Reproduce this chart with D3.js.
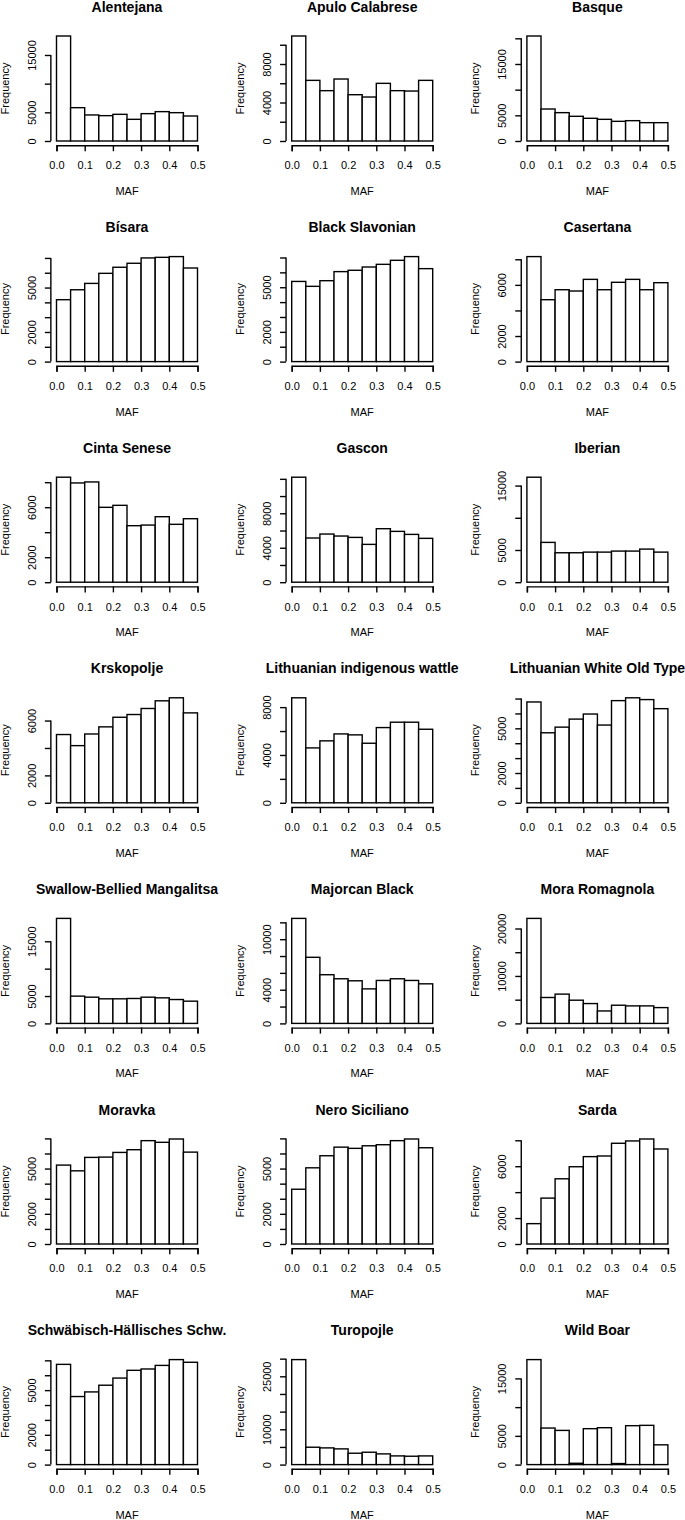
<!DOCTYPE html>
<html>
<head>
<meta charset="utf-8">
<script src="https://cdnjs.cloudflare.com/ajax/libs/d3/7.8.5/d3.min.js"></script>
<style>
  body { margin: 0; background: #fff; }
  text { font-family: "Liberation Sans", Arial, Helvetica, sans-serif; fill: #000; }
</style>
</head>
<body>
<div id="chart"></div>
<script>
// Breeds, in panel order (three per row)
var breeds = [
  "Alentejana", "Apulo Calabrese", "Basque",
  "Bísara", "Black Slavonian", "Casertana",
  "Cinta Senese", "Gascon", "Iberian",
  "Krskopolje", "Lithuanian indigenous wattle", "Lithuanian White Old Type",
  "Swallow-Bellied Mangalitsa", "Majorcan Black", "Mora Romagnola",
  "Moravka", "Nero Siciliano", "Sarda",
  "Schwäbisch-Hällisches Schw.", "Turopojle", "Wild Boar"
];

// MAF bin edges and x tick labels
var mafBreaks = [0, 0.05, 0.1, 0.15, 0.2, 0.25, 0.3, 0.35, 0.4, 0.45, 0.5];
var xTickValues = [0, 0.1, 0.2, 0.3, 0.4, 0.5];
var xTickLabels = ["0.0", "0.1", "0.2", "0.3", "0.4", "0.5"];

// Frequency per MAF bin, one row per breed
var counts = [
  [18310, 5810, 4540, 4420, 4650, 3780, 4770, 5120, 4940, 4360],
  [10910, 6300, 5230, 6440, 4810, 4570, 5990, 5230, 5190, 6300],
  [20450, 6230, 5520, 4810, 4420, 4220, 3830, 3960, 3570, 3570],
  [4180, 4850, 5280, 5960, 6370, 6640, 7000, 7040, 7090, 6320],
  [5390, 5060, 5440, 6050, 6140, 6360, 6540, 6810, 7060, 6250],
  [8210, 4840, 5620, 5520, 6430, 5620, 6200, 6430, 5620, 6170],
  [8400, 7940, 8020, 5990, 6150, 4520, 4570, 5240, 4630, 5080],
  [12190, 5130, 5590, 5360, 5200, 4390, 6210, 5900, 5550, 5090],
  [16300, 6180, 4570, 4570, 4670, 4670, 4830, 4830, 5140, 4670],
  [4980, 4170, 5020, 5540, 6240, 6440, 6880, 7440, 7660, 6560],
  [8780, 4590, 5180, 5760, 5680, 4980, 6290, 6740, 6740, 6150],
  [6770, 4700, 5080, 5620, 5960, 5220, 6860, 7050, 6930, 6320],
  [19180, 4980, 4790, 4490, 4490, 4550, 4790, 4670, 4360, 4060],
  [12470, 7850, 5780, 5300, 5060, 4100, 5100, 5300, 5100, 4700],
  [22130, 5460, 6170, 4890, 4180, 2620, 3830, 3690, 3690, 3330],
  [5230, 4850, 5740, 5760, 6070, 6250, 6850, 6740, 6960, 6090],
  [3630, 5050, 5850, 6420, 6340, 6510, 6580, 6850, 6960, 6380],
  [1570, 3540, 5030, 5960, 6740, 6790, 7770, 7950, 8100, 7330],
  [6730, 4570, 4880, 5330, 5810, 6330, 6420, 6660, 7050, 6870],
  [29730, 4920, 4730, 4450, 3220, 3500, 3030, 2460, 2370, 2460],
  [18270, 6360, 5950, 230, 6250, 6420, 180, 6770, 6830, 3440]
];

// y tick spacing and which y ticks carry a label
var yTickStep = [
  5000, 2000, 5000,
  1000, 1000, 2000,
  2000, 2000, 5000,
  2000, 2000, 1000,
  5000, 2000, 5000,
  1000, 1000, 2000,
  1000, 5000, 5000
];
var yTickLabels = [
  [0, 5000, 15000], [0, 4000, 8000], [0, 5000, 15000],
  [0, 2000, 5000], [0, 2000, 5000], [0, 2000, 6000],
  [0, 2000, 6000], [0, 4000, 8000], [0, 5000, 15000],
  [0, 2000, 6000], [0, 4000, 8000], [0, 2000, 5000],
  [0, 5000, 15000], [0, 4000, 10000], [0, 10000, 20000],
  [0, 2000, 5000], [0, 2000, 5000], [0, 2000, 6000],
  [0, 2000, 5000], [0, 10000, 25000], [0, 5000, 15000]
];

// SVG area and panel grid
var svgWidth = 685;
var svgHeight = 1520;
var colStep = 235.2;
var rowStep = 220.6;

// Inside one panel
var plot = { x0: 56.5, x1: 197.5, yBase: 141, yTop: 36 };

var svg = d3.select("#chart")
  .append("svg")
  .attr("width", svgWidth)
  .attr("height", svgHeight);

breeds.forEach(function(name, k) {
  var col = k % 3;
  var row = Math.floor(k / 3);
  var data = counts[k];
  var maxCount = d3.max(data);

  var g = svg.append("g")
    .attr("transform", `translate(${col * colStep}, ${row * rowStep})`);

  var xScale = d3.scaleLinear()
    .domain([0, 0.5])
    .range([plot.x0, plot.x1]);

  var yScale = d3.scaleLinear()
    .domain([0, maxCount])
    .range([plot.yBase, plot.yTop]);

  // R pads the plot region by 4% on each side
  var axisY = yScale(-0.04 * maxCount);
  var axisX = xScale(-0.02);
  var plotMidX = (xScale(-0.02) + xScale(0.52)) / 2;
  var plotMidY = (yScale(-0.04 * maxCount) + yScale(1.04 * maxCount)) / 2;

  // bars
  g.selectAll("rect")
    .data(data)
    .enter()
    .append("rect")
    .attr("x", (d, i) => xScale(mafBreaks[i]))
    .attr("width", (d, i) => xScale(mafBreaks[i + 1]) - xScale(mafBreaks[i]))
    .attr("y", d => yScale(d))
    .attr("height", d => yScale(0) - yScale(d))
    .attr("fill", "#fff")
    .attr("stroke", "#000")
    .attr("stroke-width", 1.4);

  // x axis
  var xAxis = d3.axisBottom(xScale)
    .tickValues(xTickValues)
    .tickFormat((d, i) => xTickLabels[i])
    .tickSizeOuter(0)
    .tickSize(6)
    .tickPadding(10.5);

  var gx = g.append("g")
    .attr("transform", `translate(0, ${axisY})`)
    .call(xAxis);
  gx.selectAll("path, line").attr("stroke", "#000").attr("stroke-width", 1.4);
  gx.selectAll("text")
    .attr("font-size", 11)
    .attr("font-family", "Liberation Sans, Arial, sans-serif");

  // y axis: ticks up to the last step inside the padded range
  var yTicks = d3.range(0, maxCount * 1.04 + 1, yTickStep[k]);
  var labels = yTickLabels[k];
  var yAxis = d3.axisLeft(yScale)
    .tickValues(yTicks)
    .tickFormat(d => labels.indexOf(d) >= 0 ? String(d) : "")
    .tickSize(6);

  var gy = g.append("g")
    .attr("transform", `translate(${axisX}, 0)`)
    .call(yAxis);
  gy.select(".domain").remove();
  gy.append("line")
    .attr("x1", 0).attr("x2", 0)
    .attr("y1", yScale(0))
    .attr("y2", yScale(yTicks[yTicks.length - 1]))
    .attr("stroke", "#000")
    .attr("stroke-width", 1.4);
  gy.selectAll("line").attr("stroke", "#000").attr("stroke-width", 1.4);
  gy.selectAll("text")
    .attr("x", 0)
    .attr("y", -15.3)
    .attr("dy", null)
    .attr("text-anchor", "middle")
    .attr("transform", "rotate(-90)")
    .attr("font-size", 11)
    .attr("font-family", "Liberation Sans, Arial, sans-serif");

  // titles and axis labels
  g.append("text")
    .attr("x", plotMidX)
    .attr("y", 11.5)
    .attr("text-anchor", "middle")
    .style("font-weight", "bold")
    .style("font-size", "14px")
    .text(name);

  g.append("text")
    .attr("x", plotMidX)
    .attr("y", 195)
    .attr("text-anchor", "middle")
    .style("font-size", "11px")
    .text("MAF");

  g.append("text")
    .attr("transform", `translate(9, ${plotMidY}) rotate(-90)`)
    .attr("text-anchor", "middle")
    .style("font-size", "11px")
    .text("Frequency");
});
</script>
</body>
</html>
